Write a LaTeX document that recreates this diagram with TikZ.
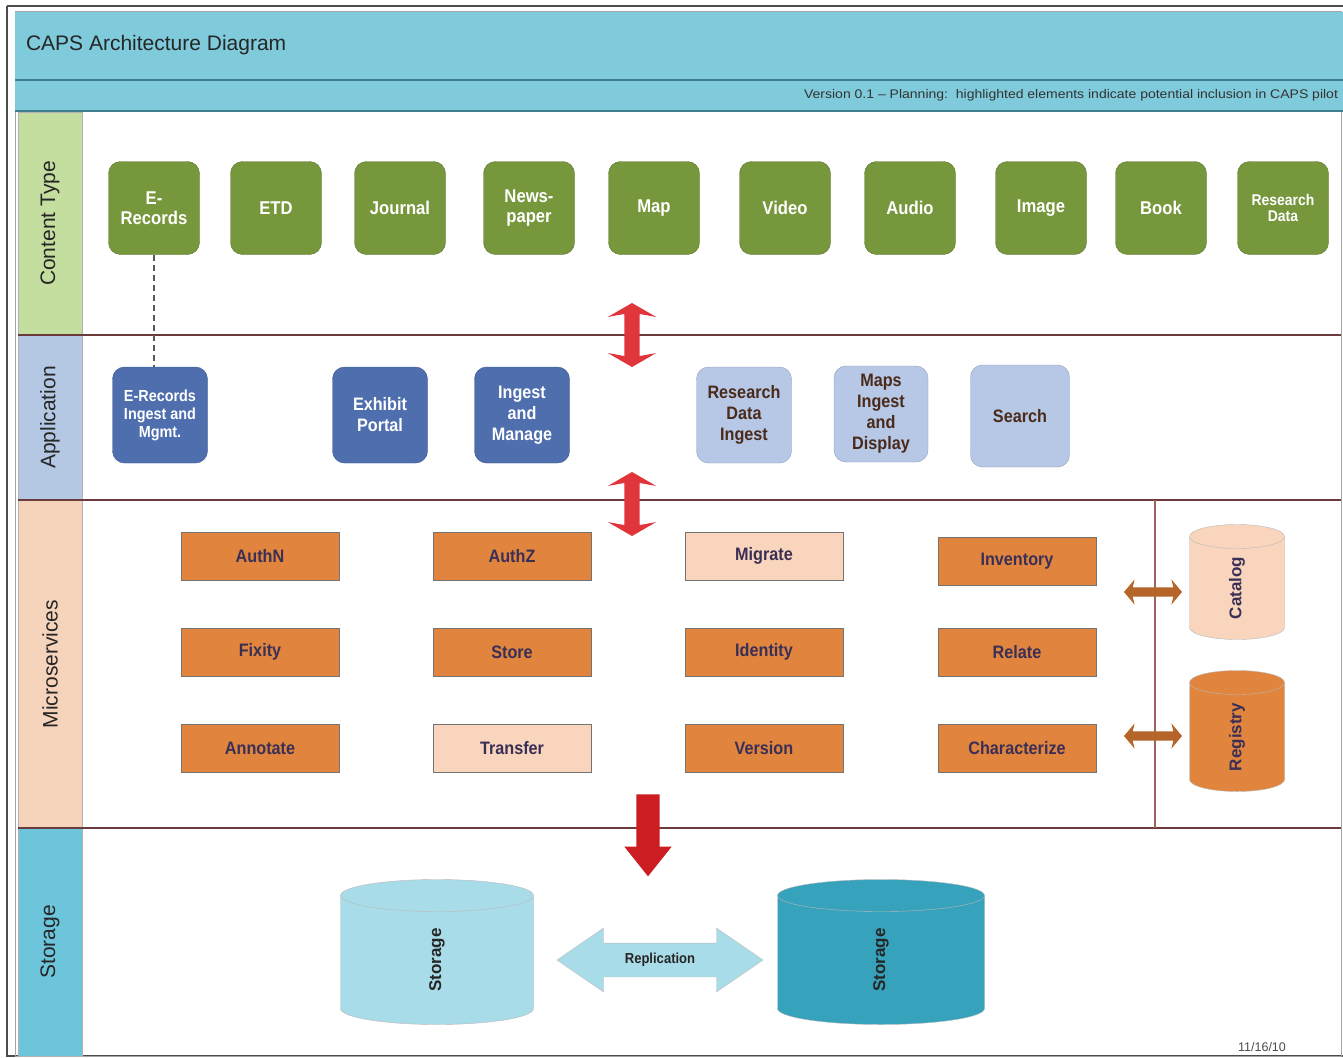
\documentclass[tikz,border=0pt]{standalone}
\usepackage{fontspec}
\setmainfont{Liberation Sans}
\newfontfamily\nar[FakeStretch=0.9]{Liberation Sans}
\newfontfamily\wide[FakeStretch=1.12]{Liberation Sans}
\usetikzlibrary{shapes.geometric,shapes.arrows}
\definecolor{hdr}{HTML}{7FCBDC}
\definecolor{hdrline}{HTML}{3F7F8C}
\definecolor{lgreen}{HTML}{C4DEA0}
\definecolor{lblue}{HTML}{B4C8E4}
\definecolor{lpeach}{HTML}{F6D3BB}
\definecolor{lstore}{HTML}{6CC5DA}
\definecolor{cgreen}{HTML}{77973D}
\definecolor{dblue}{HTML}{4E6EAD}
\definecolor{ablue}{HTML}{B6C8E6}
\definecolor{morange}{HTML}{E0843E}
\definecolor{mpeach}{HTML}{F8D5BC}
\definecolor{mtext}{HTML}{3A2F55}
\definecolor{stlight}{HTML}{A8DCE9}
\definecolor{stdark}{HTML}{37A2BC}
\definecolor{redarr}{HTML}{E0363B}
\definecolor{reddown}{HTML}{CC1E22}
\definecolor{brownarr}{HTML}{B5652A}
\definecolor{sepline}{HTML}{6B3B3B}
\definecolor{vline}{HTML}{A0605A}
\definecolor{apptext}{HTML}{4A2A1A}
% #1 name, #2 x, #3 y, #4 width, #5 height, #6 ellipse half-height, #7 fill, #8 text colour, #9 text
\newcommand\drawcyl[9]{%
  \node[minimum width=#4, minimum height=#5] (#1) at (#2,#3) {};
  \filldraw[draw=gray!55, fill=#7] (#1.north west) ++(0,#6) -- ++(0,#5-2*#6)
    arc[start angle=180, end angle=0, x radius=#4/2, y radius=#6]
    -- ++(0,-#5+2*#6)
    arc[start angle=0, end angle=-180, x radius=#4/2, y radius=#6] -- cycle;
  \draw[gray!55] (#1.north west) ++(0,#6)
    arc[start angle=180, end angle=0, x radius=#4/2, y radius=#6];
  \node[rotate=90, text=#8, font=\bfseries\fontsize{17}{18}\selectfont] (#1-label) at ([yshift=-#6*0.5pt]#1.center) {#9};
}
\begin{document}
\begin{tikzpicture}[x=1pt,y=-1pt,
  every node/.style={inner sep=0pt, outer sep=0pt},
  lab/.style={draw=gray!60, fill=#1, rotate=90, minimum height=64, text=black!85,
    font=\fontsize{21}{22}\selectfont},
  cbox/.style={draw=cgreen!80!black, fill=cgreen, rounded corners=12, minimum width=91,
    minimum height=93, text=white, align=center,
    font=\nar\bfseries\fontsize{18.5}{20}\selectfont},
  abox/.style={draw=#1!80!black, fill=#1, rounded corners=12, minimum width=95,
    minimum height=96, align=center, font=\nar\bfseries\fontsize{18}{21}\selectfont},
  mbox/.style={draw=black!55, fill=#1, minimum width=158, minimum height=48, text=mtext,
    font=\nar\bfseries\fontsize{18}{20}\selectfont},
  sep/.style={draw=sepline, line width=1.3},
  redda/.style={double arrow, fill=redarr, rotate=90, inner sep=7.5pt,
    double arrow head extend=16.5pt, double arrow tip angle=120,
    double arrow head indent=3pt, minimum height=64},
  brownda/.style={double arrow, fill=brownarr, inner sep=4.5pt,
    double arrow head extend=8pt, double arrow tip angle=100,
    double arrow head indent=2pt, minimum height=58}
]
\useasboundingbox (0,0) rectangle (1343,1057);
\fill[white] (0,0) rectangle (1343,1057);
% frames
\draw[black!70, line width=1.2] (7,6) -- (7,1056) -- (1343,1056);
\draw[black!70, line width=1.2] (7,6) -- (1343,6);
\draw[gray!70, line width=1] (15,12) rectangle (1341,1056);
% header
\fill[hdr] (15,12) rectangle (1343,79);
\fill[hdr] (15,81) rectangle (1343,110);
\draw[hdrline, line width=2] (15,80) -- (1343,80);
\draw[hdrline, line width=1.5] (15,111) -- (1343,111);
\node[anchor=west, font=\fontsize{21}{22}\selectfont, text=black!85] (title) at (26,45) {CAPS Architecture Diagram};
\node[anchor=east, font=\wide\fontsize{12.5}{13}\selectfont, text=black!80] (version) at (1338,95) {Version 0.1 – Planning:\ \ highlighted elements indicate potential inclusion in CAPS pilot};
% label column
\node[lab=lgreen, minimum width=223] (lct) at (50,223.5) {Content Type};
\node[lab=lblue, minimum width=165] (lapp) at (50,417.5) {Application};
\node[lab=lpeach, minimum width=328] (lms) at (50,664) {Microservices};
\node[lab=lstore, minimum width=228] (lst) at (50,942) {Storage};
% row separators
\draw[sep] (18,335) -- (1341,335);
\draw[sep] (18,500) -- (1341,500);
\draw[sep] (18,828) -- (1341,828);
\draw[vline, line width=1.5] (1155,500) -- (1155,828);
% content types
\node[cbox] (erec) at (154,208) {E-\\Records};
\node[cbox] (etd) at (276,208) {ETD};
\node[cbox] (journal) at (400,208) {Journal};
\node[cbox] (news) at (529,208) {News-\\paper};
\node[cbox] (map) at (654,208) {Map};
\node[cbox] (video) at (785,208) {Video};
\node[cbox] (audio) at (910,208) {Audio};
\node[cbox] (image) at (1041,208) {Image};
\node[cbox] (book) at (1161,208) {Book};
\node[cbox, font=\nar\bfseries\fontsize{15.5}{16}\selectfont] (rdata) at (1283,208) {Research\\Data};
% applications
\node[abox=dblue, text=white, font=\nar\bfseries\fontsize{16}{18}\selectfont] (era) at (160,415) {E-Records\\Ingest and\\Mgmt.};
\node[abox=dblue, text=white] (exhibit) at (380,415) {Exhibit\\Portal};
\node[abox=dblue, text=white] (ingest) at (522,415) {Ingest\\and\\Manage};
\node[abox=ablue, text=apptext] (rdi) at (744,415) {Research\\Data\\Ingest};
\node[abox=ablue, text=apptext, minimum width=94] (maps) at (881,414) {Maps\\Ingest\\and\\Display};
\node[abox=ablue, text=apptext, minimum width=99, minimum height=102] (search) at (1020,416) {Search};
\draw[black!65, line width=1.3, dash pattern=on 6pt off 4pt] (erec.south) -- (erec.south |- era.north);
% red layer arrows
\node[redda] (arr1) at (632,335) {};
\node[redda] (arr2) at (632,504) {};
% microservices
\node[mbox=morange] (authn) at (260,556) {AuthN};
\node[mbox=morange] (authz) at (512,556) {AuthZ};
\node[mbox=mpeach] (migrate) at (764,556) {Migrate};
\node[mbox=morange] (inventory) at (1017,561) {Inventory};
\node[mbox=morange] (fixity) at (260,652) {Fixity};
\node[mbox=morange] (store) at (512,652) {Store};
\node[mbox=morange] (identity) at (764,652) {Identity};
\node[mbox=morange] (relate) at (1017,652) {Relate};
\node[mbox=morange] (annotate) at (260,748) {Annotate};
\node[mbox=mpeach] (transfer) at (512,748) {Transfer};
\node[mbox=morange] (version2) at (764,748) {Version};
\node[mbox=morange] (characterize) at (1017,748) {Characterize};
% catalog and registry
\drawcyl{catalog}{1237}{582}{95}{115}{12}{mpeach}{mtext}{Catalog}
\drawcyl{registry}{1237}{731}{95}{121}{12}{morange}{mtext}{Registry}
\node[brownda] (barr1) at (1153,592) {};
\node[brownda] (barr2) at (1153,736) {};
% down arrow
\node[single arrow, fill=reddown, rotate=-90, inner sep=11.5pt, single arrow head extend=12pt,
  single arrow tip angle=77, minimum height=82] (down) at (648,828) {};
% storage
\drawcyl{st1}{437}{952}{193}{145}{16}{stlight}{black!85}{Storage}
\drawcyl{st2}{881}{952}{207}{145}{16}{stdark}{black!85}{Storage}
\node[double arrow, draw=gray!50, fill=stlight, inner xsep=6pt, inner ysep=10pt,
  double arrow head extend=15pt, double arrow tip angle=69, minimum height=206,
  font=\nar\bfseries\fontsize{14.5}{15}\selectfont, text=black!85] (repl) at (660,960) {Replication};
\node[font=\fontsize{12.5}{13}\selectfont, text=black!70] (date) at (1262,1047) {11/16/10};
\end{tikzpicture}
\end{document}
